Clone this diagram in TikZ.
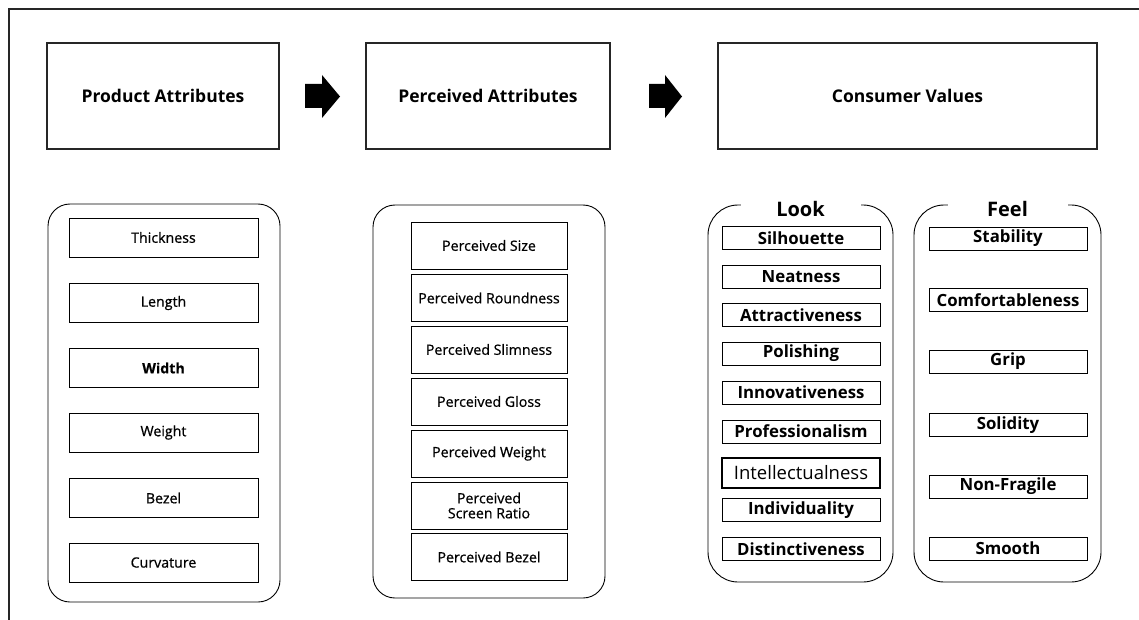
\documentclass[tikz,border=0pt]{standalone}
\usepackage{fontspec}
\setmainfont{Open Sans}
\newfontfamily\itemfont[FakeBold=0.7]{Open Sans}
\begin{document}
\begin{tikzpicture}[x=1pt,y=-1pt,
  head/.style={draw=black!85,line width=1.2pt,font=\fontsize{17.5}{20}\selectfont\bfseries,inner sep=0pt},
  item/.style={draw=black,line width=0.9pt,font=\itemfont\fontsize{14.2}{15}\selectfont,inner sep=0pt,align=center},
  lfitem/.style={draw=black,line width=0.9pt,font=\fontsize{16.8}{18}\selectfont\bfseries,inner sep=0pt,minimum width=158pt,minimum height=23pt},
  cont/.style={draw=black,line width=0.9pt},
  ttl/.style={fill=white,inner sep=0pt,minimum width=120pt,minimum height=30pt,font=\fontsize{20}{22}\selectfont\bfseries},
  blk/.style={fill=black}]
\useasboundingbox (0,0) rectangle (1139,620);
% outer frame
\draw[line width=1.1pt,black!85] (9,630) -- (9,9) -- (1150,9);
% top boxes
\node[head,minimum width=232pt,minimum height=106pt] (pa) at (163,96) {Product Attributes};
\node[head,minimum width=244pt,minimum height=106pt] (pe) at (488,96) {Perceived Attributes};
\node[head,minimum width=379pt,minimum height=106pt] (cv) at (907.5,96) {Consumer Values};
% block arrows
\fill[blk] (305,84) -- (322,84) -- (322,75) -- (340,96.5) -- (322,118) -- (322,108) -- (305,108) -- cycle;
\fill[blk] (649,84) -- (665,84) -- (665,75) -- (682,96.5) -- (665,118) -- (665,108) -- (649,108) -- cycle;
% containers
\draw[cont,rounded corners=22pt] (48,204) rectangle (280,602);
\draw[cont,rounded corners=22pt] (373,205) rectangle (605,598);
\draw[cont,rounded corners=30pt] (708,205) rectangle (893,582);
\draw[cont,rounded corners=30pt] (914,205) rectangle (1101,582);
\node[ttl] (look) at (800.5,209) {Look};
\node[ttl] (feel) at (1007.5,209) {Feel};
% product attributes
\foreach \t/\y/\n in {Thickness/237.5/a1,Length/303/a2,{\bfseries Width}/368/a3,Weight/432.5/a4,Bezel/498/a5,Curvature/562.5/a6}
  \node[item,minimum width=189pt,minimum height=39pt] (\n) at (163.5,\y) {\t};
% perceived attributes
\foreach \t/\y/\n in {Perceived Size/245.5/p1,Perceived Roundness/298/p2,Perceived Slimness/349.5/p3,Perceived Gloss/401.5/p4,Perceived Weight/453.5/p5,{Perceived\\Screen Ratio}/505.5/p6,Perceived Bezel/557/p7}
  \node[item,minimum width=156pt,minimum height=47pt] (\n) at (489,\y) {\t};
% look
\foreach \t/\y/\n in {Silhouette/238/l1,Neatness/276.5/l2,Attractiveness/315/l3,Polishing/353.5/l4,Innovativeness/392.5/l5,Professionalism/431.5/l6,Individuality/510/l8,Distinctiveness/549/l9}
  \node[lfitem] (\n) at (801,\y) {\t};
\node[draw=black,line width=1.4pt,inner sep=0pt,minimum width=158pt,minimum height=30pt,font=\fontsize{18.5}{20}\selectfont] (l7) at (801,473) {Intellectualness};
% feel
\foreach \t/\y/\n in {Stability/238.5/f1,Comfortableness/300/f2,Grip/361.5/f3,Solidity/425/f4,Non-Fragile/486.5/f5,Smooth/548.5/f6}
  \node[lfitem] (\n) at (1008,\y) {\t};
\end{tikzpicture}
\end{document}
